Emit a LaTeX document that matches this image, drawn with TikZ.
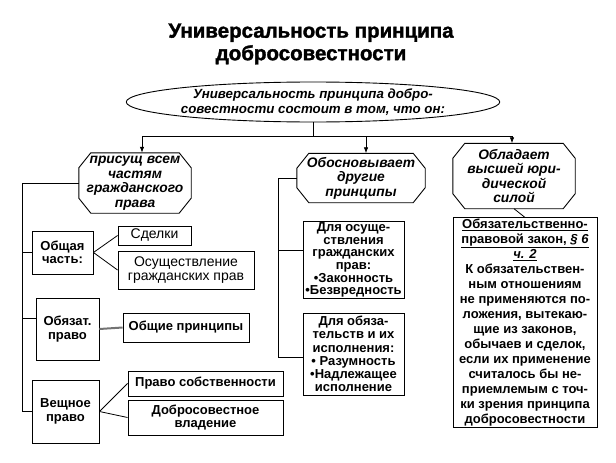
\documentclass[tikz,border=0pt]{standalone}
\usepackage{fontspec}
\setmainfont{Liberation Sans}
\usetikzlibrary{shapes.geometric, arrows.meta, calc}

\begin{document}
\begin{tikzpicture}[x=1pt, y=-1pt,
    box/.style={draw, line width=0.9pt, rectangle, align=center, inner sep=1pt,
        font=\fontsize{13}{13.5}\selectfont\bfseries},
    octa/.style={rectangle, align=center, inner sep=0pt,
        font=\fontsize{13.8}{14.5}\selectfont\bfseries\itshape},
    link/.style={line width=0.8pt},
    arr/.style={line width=0.8pt, -{Latex[length=6pt, width=4.5pt]}}]
    \useasboundingbox (0,0) rectangle (616,463);

    % Title
    \node[align=center, font=\fontsize{20.5}{22.5}\selectfont\bfseries\addfontfeatures{FakeBold=1.6}] (title) at (311,44)
        {Универсальность принципа\\добросовестности};

    % Ellipse
    \node[draw, line width=0.9pt, ellipse, minimum width=297, minimum height=40, inner sep=0pt,
        align=center, font=\fontsize{13.3}{15}\selectfont\bfseries\itshape] (ell) at (313,102)
        {Универсальность принципа добро-\\совестности состоит в том, что он:};

    % Frames
    \node[octa, minimum width=112, minimum height=60] (o1) at (135,183)
        {присущ всем\\частям\\гражданского\\права};
    \node[octa, minimum width=128, minimum height=49] (o2) at (361,178)
        {Обосновывает\\другие\\принципы};
    \node[octa, minimum width=122, minimum height=65] (o3) at (514,176)
        {Обладает\\высшей юри-\\дической\\силой};
    \foreach \o in {o1,o2,o3}
        \draw[line width=0.9pt] ([xshift=12pt]\o.north west) -- ([xshift=-12pt]\o.north east)
            -- ([yshift=-15pt]\o.north east) -- ([yshift=15pt]\o.south east)
            -- ([xshift=-12pt]\o.south east) -- ([xshift=12pt]\o.south west)
            -- ([yshift=15pt]\o.south west) -- ([yshift=-15pt]\o.north west) -- cycle;

    % Left column
    \node[box, minimum width=61, minimum height=43] (obsh) at (62.5,252.5) {Общая\\часть:};
    \node[box, font=\fontsize{14}{14.5}\selectfont, minimum width=73, minimum height=19] (sdelki) at (154.5,235.5) {Сделки};
    \node[box, font=\fontsize{14}{14.5}\selectfont, minimum width=136, minimum height=38] (osush) at (186,270)
        {Осуществление\\гражданских прав};
    \node[box, minimum width=63, minimum height=62] (obz) at (67.5,329) {Обязат.\\право};
    \node[box, minimum width=126, minimum height=29] (obpr) at (186,327.5) {Общие принципы};
    \node[box, minimum width=67, minimum height=63] (vesh) at (65.5,411.5) {Вещное\\право};
    \node[box, minimum width=155, minimum height=25] (sobst) at (205.5,383.5) {Право собственности};
    \node[box, minimum width=155, minimum height=35] (vlad) at (205.5,417.5)
        {Добросовестное\\владение};

    % Middle column
    \node[box, font=\fontsize{13}{12.7}\selectfont\bfseries, minimum width=101, minimum height=76] (grazhd) at (353.5,260)
        {Для осуще-\\ствления\\гражданских\\прав:\\•Законность\\•Безвредность};
    \node[box, font=\fontsize{13}{13.2}\selectfont\bfseries, minimum width=101, minimum height=82] (obyaz) at (353.5,354)
        {Для обяза-\\тельств и их\\исполнения:\\• Разумность\\•Надлежащее\\исполнение};

    % Right column
    \node[box, font=\fontsize{13}{15}\selectfont\bfseries, minimum width=144, minimum height=201] (zakon) at (525,322.5)
        {\underline{Обязательственно-}\\
         \underline{правовой закон, \textit{§ 6}}\\
         \underline{\textit{ч. 2}}\\
         К обязательствен-\\ным отношениям\\не применяются по-\\ложения, вытекаю-\\щие из законов,\\
         обычаев и сделок,\\если их применение\\считалось бы не-\\приемлемым с точ-\\ки зрения принципа\\
         добросовестности};

    % Bus
    \coordinate (b1) at (142,136);
    \coordinate (b2) at (366,136);
    \coordinate (b3) at (512,136);
    \draw[link] (ell.south) -- (ell.south |- b1);
    \draw[link] (b1) -- (b3);
    \draw[arr] (b1) -- (b1 |- o1.north);
    \draw[arr] (b2) -- (b2 |- o2.north);
    \draw[arr] (b3) -- (b3 |- o3.north);

    % Left links
    \coordinate (ls) at (22,411.5);
    \draw[link] (o1.west) -| (ls) -- (vesh.west);
    \draw[link] (obsh.west) -- (obsh.west -| ls);
    \draw[link] ([yshift=11pt]obz.west) -- ([yshift=11pt]obz.west -| ls);
    \draw[link] (obsh.east) -- (sdelki.west);
    \draw[link] (obsh.east) -- (osush.west);
    \draw[line width=2pt, black!55] (obz.east) -- (obpr.west);
    \draw[link] (vesh.east) -- (sobst.west);
    \draw[link] (vesh.east) -- (vlad.west);

    % Middle links
    \coordinate (ms) at (278,357);
    \draw[link] (o2.west) -| (ms) -- (ms -| obyaz.west);
    \draw[link] ([yshift=10pt]grazhd.west) -- ([yshift=10pt]grazhd.west -| ms);

    % Right link
    \draw[link] (o3.south) -- (zakon.north);
\end{tikzpicture}
\end{document}
